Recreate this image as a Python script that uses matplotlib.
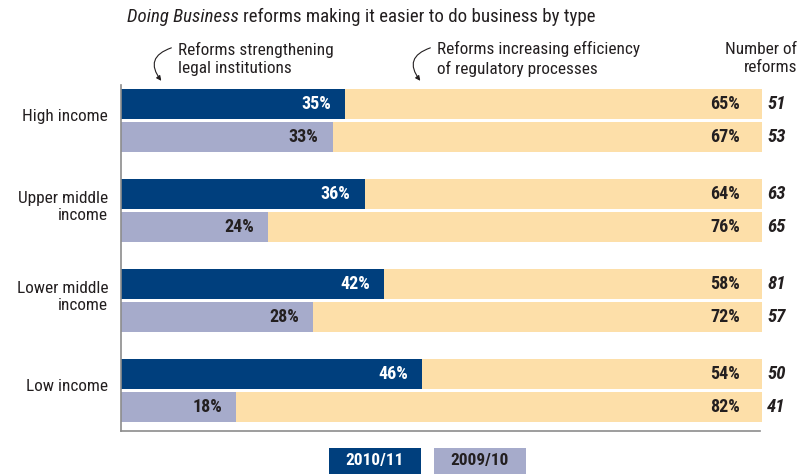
import matplotlib.pyplot as plt
from matplotlib import font_manager
from matplotlib.patches import FancyArrowPatch, Rectangle
import numpy as np

# data
groups = ["High income", "Upper middle\nincome", "Lower middle\nincome", "Low income"]
# printed shares (labels)
legal_2011 = [35, 36, 42, 46]
legal_2010 = [33, 24, 28, 18]
# bar lengths as actually drawn in the source picture
bar_2011 = [35, 38, 41, 47]
bar_2010 = [33, 23, 30, 18]
count_2011 = [51, 63, 81, 50]
count_2010 = [53, 65, 57, 41]
legend_labels = ["2010/11", "2009/10"]

dark = "#003f7d"
lav = "#a6abcb"
peach = "#fddfa9"
txt = "#231f20"

# pick a narrow family if one is around
names = {f.name for f in font_manager.fontManager.ttflist}
fam = "DejaVu Sans"
for cand in ["Liberation Sans Narrow", "Roboto Condensed", "Open Sans Condensed"]:
    if cand in names:
        fam = cand
        break
plt.rcParams['font.family'] = [fam, 'DejaVu Sans']
plt.rcParams['font.stretch'] = 'condensed'
sc = 1.0 if fam != "DejaVu Sans" else 0.86

fig = plt.figure(figsize=(8.06, 4.74), dpi=100)
ax = fig.add_axes([121 / 806, 43 / 474, 641 / 806, 346 / 474])

y = np.arange(len(groups))
off = 0.183
h = 0.33

for i in range(len(groups)):
    rows = [(y[i] - off, legal_2011[i], bar_2011[i], count_2011[i], dark, "white"),
            (y[i] + off, legal_2010[i], bar_2010[i], count_2010[i], lav, txt)]
    for yy, v, b, n, c, tc in rows:
        ax.barh(yy, b, height=h, color=c, left=0)
        ax.barh(yy, 100 - b, height=h, color=peach, left=b)
        ax.text(b - 2.2, yy, f"{v}%", ha="right", va="center", color=tc,
                fontsize=13 * sc, fontweight="bold")
        ax.text(96.6, yy, f"{100 - v}%", ha="right", va="center", color=txt,
                fontsize=13 * sc, fontweight="bold")
        ax.text(100.8, yy, str(n), ha="left", va="center", color=txt,
                fontsize=13.5 * sc, fontweight="bold", style="italic")
    ax.text(-2.0, y[i] - 0.04, groups[i], ha="right", va="center", color=txt,
            fontsize=12.4 * sc, linespacing=1.15)

ax.set_xlim(0, 100)
ax.set_ylim(3.45, -0.394)
ax.set_xticks([])
ax.set_yticks([])
for s in ["top", "right"]:
    ax.spines[s].set_visible(False)
for s in ["left", "bottom"]:
    ax.spines[s].set_color("#8c8c8c")
    ax.spines[s].set_linewidth(1.2)
ax.spines["bottom"].set_bounds(0, 99.7)

# title: italic part, then the rest right after it
t1 = fig.text(127 / 806, 1 - 17 / 474, "Doing Business", fontsize=13.6 * sc, color=txt,
              va="center", ha="left", style="italic")
r = fig.canvas.get_renderer()
bb = t1.get_window_extent(r)
fig.text(bb.x1 / 806 + 4 / 806, 1 - 17 / 474,
         "reforms making it easier to do business by type",
         fontsize=13.6 * sc, color=txt, va="center", ha="left")

# annotations
fig.text(178 / 806, 1 - 59 / 474, "Reforms strengthening\nlegal institutions",
         fontsize=12.4 * sc, color=txt, va="center", ha="left", linespacing=1.25)
fig.text(437 / 806, 1 - 59 / 474, "Reforms increasing efficiency\nof regulatory processes",
         fontsize=12.4 * sc, color=txt, va="center", ha="left", linespacing=1.25)
fig.text(797 / 806, 1 - 59 / 474, "Number of\nreforms",
         fontsize=12.4 * sc, color=txt, va="center", ha="right", linespacing=1.25)

for x0, x1 in [(174, 163), (433, 422)]:
    fig.add_artist(FancyArrowPatch(
        (x0 / 806, 1 - 47 / 474), (x1 / 806, 1 - 83 / 474),
        transform=fig.transFigure, connectionstyle="arc3,rad=0.75",
        arrowstyle="-|>", mutation_scale=7, color=txt, lw=0.8))

# legend boxes
for x0, lab, c, tc in [(329, legend_labels[0], dark, "white"),
                       (434, legend_labels[1], lav, txt)]:
    fig.add_artist(Rectangle((x0 / 806, 0), 92 / 806, 26 / 474,
                             transform=fig.transFigure, color=c, lw=0))
    fig.text((x0 + 46) / 806, 13 / 474, lab, ha="center", va="center",
             fontsize=12.4 * sc, fontweight="bold", color=tc)

fig.savefig("out.png", dpi=100)
